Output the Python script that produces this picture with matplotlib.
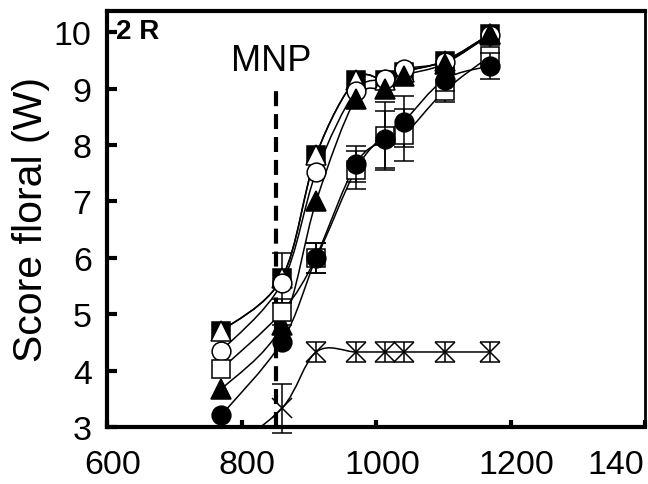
import numpy as np
import matplotlib
matplotlib.use('Agg')
import matplotlib.pyplot as plt
from matplotlib.path import Path
from matplotlib.patches import PathPatch
from matplotlib.transforms import ScaledTranslation

plt.rcParams['font.family'] = ['Liberation Sans', 'DejaVu Sans']

# ---- data ----
x_days = [770, 860, 911, 970, 1013, 1041, 1102, 1170]
sq_filled = [4.70, 5.64, 7.82, 9.16, 9.15, 9.30, 9.49, 9.97]
tri_open = [4.70, 5.64, 7.82, 9.16, 9.15, 9.30, 9.49, 9.97]
circ_open = [4.35, 5.55, 7.52, 8.96, 9.17, 9.35, 9.47, 9.95]
tri_filled = [3.67, 4.80, 7.00, 8.82, 9.00, 9.23, 9.44, 9.97]
sq_open = [4.03, 5.04, 6.00, 7.56, 8.16, 8.18, 8.96, 9.58]
circ_filled = [3.21, 4.51, 6.00, 7.66, 8.10, 8.41, 9.16, 9.40]
cross = [2.50, 3.33, 4.33, 4.33, 4.33, 4.33, 4.33, 4.33]

err_sq_filled = [0, 0.44, 0, 0, 0, 0, 0, 0]
err_sq_open = [0, 0.23, 0.27, 0.34, 0.60, 0.46, 0.20, 0.20]
err_circ_filled = [0, 0, 0.27, 0.32, 0.50, 0.45, 0.20, 0.23]
err_cross = [0, 0.43, 0.17, 0.17, 0.17, 0.17, 0.17, 0.17]

mnp_x = 852
xticks = [600, 800, 1000, 1200, 1400]
xtick_labels = ['600', '800', '1000', '1200', '140']
yticks = [3, 4, 5, 6, 7, 8, 9, 10]


def smooth_path(xs, ys):
    pts = np.column_stack([xs, ys]).astype(float)
    n = len(pts)
    verts = [pts[0]]
    codes = [Path.MOVETO]
    for i in range(n - 1):
        p0 = pts[i - 1] if i > 0 else pts[i]
        p1 = pts[i]
        p2 = pts[i + 1]
        p3 = pts[i + 2] if i + 2 < n else pts[i + 1]
        c1 = p1 + (p2 - p0) / 6.0
        c2 = p2 - (p3 - p1) / 6.0
        verts += [c1, c2, p2]
        codes += [Path.CURVE4] * 3
    return Path(verts, codes)


fig = plt.figure(figsize=(6.48, 4.85), dpi=100)
ax = fig.add_axes([107 / 648, 57 / 485, 538 / 648, 416 / 485])

# dashed MNP line
ax.plot([mnp_x, mnp_x], [3, 9.03], color='black', lw=3, dashes=(3.6, 1.9), zorder=1)
ax.text(844, 9.49, 'MNP', fontsize=26, ha='center', va='center')
ax.text(614, 10.02, '2 R', fontsize=20, fontweight='bold', ha='left', va='center')

# lines
for ys in [sq_filled, tri_open, circ_open, tri_filled, sq_open, circ_filled, cross]:
    ax.add_patch(PathPatch(smooth_path(x_days, ys), fill=False, edgecolor='black',
                           lw=1.1, zorder=2))

xa = np.array(x_days)


def draw_err(ys, err, z):
    ys = np.array(ys)
    err = np.array(err)
    m = err > 0
    if m.any():
        ax.errorbar(xa[m], ys[m], yerr=err[m], fmt='none', ecolor='black',
                    elinewidth=1.1, capsize=7, capthick=1.1, zorder=z, clip_on=False)


series = [
    (sq_filled, err_sq_filled, 's', 'black', 13),
    (tri_open, None, '^', 'white', 14),
    (circ_open, None, 'o', 'white', 13.5),
    (tri_filled, None, '^', 'black', 14),
    (sq_open, err_sq_open, 's', 'white', 13),
    (circ_filled, err_circ_filled, 'o', 'black', 13.5),
]
z = 3
for ys, err, mk, fc, ms in series:
    if err is not None:
        draw_err(ys, err, z)
    ax.plot(x_days, ys, linestyle='none', marker=mk, markersize=ms,
            markerfacecolor=fc, markeredgecolor='black', markeredgewidth=1.1,
            zorder=z + 0.5)
    z += 1

# cross series: only points inside the axis range get markers / error bars
cy = np.array(cross)
vis = cy >= 3
draw_err(cross, [e if v else 0 for e, v in zip(err_cross, vis)], z)
ax.plot(xa[vis], cy[vis], linestyle='none', marker='x', markersize=14,
        markeredgecolor='black', markeredgewidth=1.1, zorder=z + 0.5, clip_on=False)

ax.set_xlim(600, 1400)
ax.set_ylim(3, 3 + 416 / 56.4)

ax.set_xticks(xticks)
ax.set_xticklabels(xtick_labels)
ax.set_yticks(yticks)
ax.tick_params(axis='both', direction='in', labelsize=24.5, color='black')
ax.tick_params(axis='x', length=5, width=3, pad=16)
ax.tick_params(axis='y', length=7, width=3, pad=11)

for i, lab in enumerate(ax.get_xticklabels()):
    dx = 6 if i < 4 else -29
    lab.set_transform(lab.get_transform() + ScaledTranslation(dx / 100, 0, fig.dpi_scale_trans))

for side in ['left', 'bottom', 'top']:
    ax.spines[side].set_linewidth(3)
ax.spines['right'].set_linewidth(2)

ax.text(-0.141, 0.5, 'Score floral (W)', transform=ax.transAxes, rotation=90,
        fontsize=29.5, ha='center', va='center')

fig.savefig('out.png', dpi=100)
